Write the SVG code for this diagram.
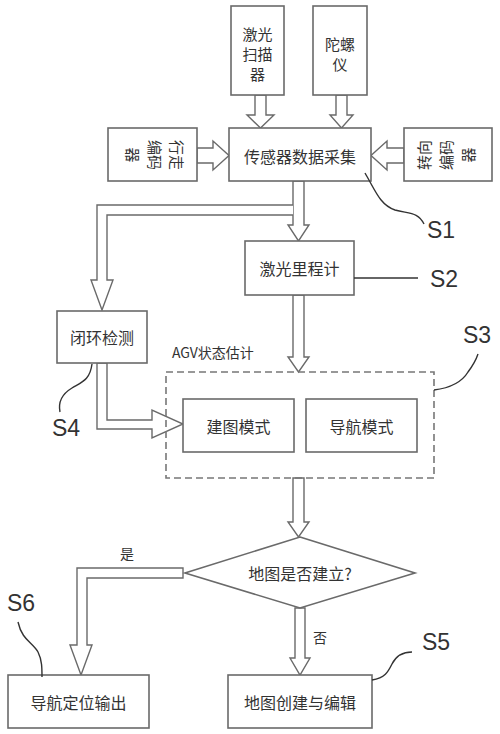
<svg xmlns="http://www.w3.org/2000/svg" width="500" height="734" viewBox="0 0 500 734">
<style>
.box{fill:#fff;stroke:#6a6a6a;stroke-width:1.6}
.dash{fill:none;stroke:#777;stroke-width:1.6;stroke-dasharray:7 4}
.arr{fill:#fff;stroke:#6a6a6a;stroke-width:1.4;stroke-linejoin:miter}
.ln{fill:none;stroke:#333;stroke-width:1.4}
.t{font-family:"Noto Sans CJK SC","Noto Sans",sans-serif;font-size:16px;fill:#333;text-anchor:middle;dominant-baseline:central}
.v{font-size:15px}
.s{font-family:"Liberation Sans",Arial,sans-serif;font-size:23px;fill:#333}
.sm{font-family:"Noto Sans CJK SC","Noto Sans",sans-serif;font-size:14px;fill:#333}
</style>
<rect width="500" height="734" fill="#fff"/>
<g id="connectors">
<polygon class="arr" points="255,95 255,115 247,115 260.5,128 274,115 266,115 266,95"/>
<polygon class="arr" points="336,95 336,115 330,115 341.5,128 353,115 347,115 347,95"/>
<polygon class="arr" points="197,148 213,148 213,141 229,155.5 213,170 213,163 197,163"/>
<polygon class="arr" points="404,148 387,148 387,141 371,155.5 387,170 387,163 404,163"/>
<polygon class="arr" points="293,181 293,225 288,225 298.5,241 309,225 304,225 304,181"/>
<polyline class="arr" points="293,205 97,205 97,280 91,280 102,310 113,280 107,280 107,215 293,215"/>
<polygon class="arr" points="293,295 293,357 288,357 298.5,372 309,357 304,357 304,295"/>
<polygon class="arr" points="97,363 97,429 152,429 152,438 183,424 152,410 152,420 107,420 107,363"/>
<polygon class="arr" points="293,478 293,522 288,522 298.5,537 309,522 304,522 304,478"/>
<polygon class="arr" points="183,568 77,568 77,645 70,645 81,675 92,645 87,645 87,578 183,578"/>
<polygon class="arr" points="295,608 295,658 290,658 300,675 310,658 305,658 305,608"/>
<text class="sm" x="127" y="553" text-anchor="middle" dominant-baseline="central">是</text>
<text class="sm" x="320" y="637" text-anchor="middle" dominant-baseline="central">否</text>
</g>
<g id="laser-scanner">
<rect class="box" x="231" y="6" width="53" height="89"/>
<text class="t v" x="257.5" y="33">激光</text>
<text class="t v" x="257.5" y="53">扫描</text>
<text class="t v" x="257.5" y="73">器</text>
</g>
<g id="gyro">
<rect class="box" x="313" y="6" width="54" height="89"/>
<text class="t v" x="340" y="43">陀螺</text>
<text class="t v" x="340" y="63">仪</text>
</g>
<g id="sensor">
<rect class="box" x="229" y="128" width="142" height="53"/>
<text class="t" x="300" y="156" font-size="16.5">传感器数据采集</text>
</g>
<g id="walk-encoder">
<rect class="box" x="108" y="128" width="89" height="53"/>
<g transform="translate(155,155) rotate(90)">
<text class="t v" x="0" y="-22">行走</text>
<text class="t v" x="0" y="0">编码</text>
<text class="t v" x="0" y="22">器</text>
</g>
</g>
<g id="steer-encoder">
<rect class="box" x="404" y="128" width="88" height="53"/>
<g transform="translate(445,155) rotate(-90)">
<text class="t v" x="0" y="-22">转向</text>
<text class="t v" x="0" y="0">编码</text>
<text class="t v" x="0" y="22">器</text>
</g>
</g>
<g id="odometer">
<rect class="box" x="245" y="241" width="109" height="54"/>
<text class="t" x="299.5" y="268">激光里程计</text>
</g>
<g id="loop-detect">
<rect class="box" x="57" y="311" width="90" height="52"/>
<text class="t" x="102" y="337">闭环检测</text>
</g>
<g id="agv-state">
<rect class="dash" x="166" y="372" width="268" height="106"/>
<text class="sm" x="172" y="352" dominant-baseline="central">AGV状态估计</text>
</g>
<g id="mapping-mode">
<rect class="box" x="183" y="399" width="111" height="53"/>
<text class="t" x="238.5" y="426">建图模式</text>
</g>
<g id="nav-mode">
<rect class="box" x="306" y="399" width="111" height="53"/>
<text class="t" x="361.5" y="426">导航模式</text>
</g>
<g id="decision">
<polygon class="box" points="300,537 415,573 300,608 185,573"/>
<text class="t" x="300" y="573">地图是否建立?</text>
</g>
<g id="nav-output">
<rect class="box" x="8" y="675" width="141" height="53"/>
<text class="t" x="78.5" y="702">导航定位输出</text>
</g>
<g id="map-edit">
<rect class="box" x="228" y="675" width="144" height="53"/>
<text class="t" x="300" y="702">地图创建与编辑</text>
</g>
<g id="labels">
<path class="ln" d="M365,173 C375,190 380,205 395,210 C410,214 418,212 424,224"/>
<text class="s" x="427" y="238">S1</text>
<line class="ln" x1="354" y1="278" x2="418" y2="278"/>
<text class="s" x="430" y="287">S2</text>
<path class="ln" d="M434,390 C450,388 462,382 468,372 C474,364 476,360 478,354"/>
<text class="s" x="463" y="343">S3</text>
<path class="ln" d="M92,364 C90,380 82,382 72,388 C62,394 58,402 60,412"/>
<text class="s" x="52" y="436">S4</text>
<path class="ln" d="M372,680 C385,678 388,672 392,664 C396,656 402,652 412,652"/>
<text class="s" x="422" y="650">S5</text>
<path class="ln" d="M18,622 C22,640 32,642 38,652 C42,660 42,668 42,677"/>
<text class="s" x="7" y="611">S6</text>
</g>
</svg>
